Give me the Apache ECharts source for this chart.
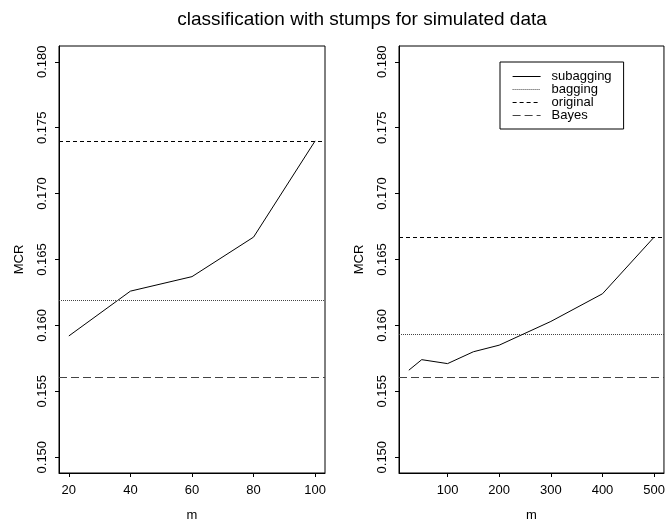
<!DOCTYPE html>
<html>
<head>
<meta charset="utf-8">
<script src="https://cdn.jsdelivr.net/npm/echarts@6/dist/echarts.min.js"></script>
<style>
html, body { margin: 0; padding: 0; background: #fff; }
#chart { width: 668px; height: 527px; }
</style>
</head>
<body>
<div id="chart"></div>
<script>
// left panel: m = 20..100
var m_left = [20, 40, 60, 80, 100]
var subagging_left = [0.1592, 0.1626, 0.1637, 0.1667, 0.1740]
var bagging_left = 0.1619
var original_left = 0.1740
var bayes_left = 0.1561

// right panel: m = 25..500
var m_right = [25, 50, 100, 150, 200, 300, 400, 500]
var subagging_right = [0.1566, 0.1574, 0.1571, 0.1580, 0.1585, 0.1603, 0.1624, 0.1667]
var bagging_right = 0.1593
var original_right = 0.1667
var bayes_right = 0.1561

var x_ticks_left = [20, 40, 60, 80, 100]
var x_ticks_right = [100, 200, 300, 400, 500]
var y_ticks = [0.150, 0.155, 0.160, 0.165, 0.170, 0.175, 0.180]

var legend_names = ['subagging', 'bagging', 'original', 'Bayes']

var font = 'Liberation Sans, Arial, Helvetica, sans-serif'
var styles = {
    subagging: {color: '#000', type: 'solid', width: 1},
    bagging: {color: '#444', type: [1, 1], width: 1},
    original: {color: '#000', type: [4, 3], width: 1},
    Bayes: {color: '#444', type: [8, 4], width: 1.2}
}

function xAxis(idx, ticks, min, max) {
    return {
        type: 'value', gridIndex: idx, min: min, max: max,
        name: 'm', nameLocation: 'middle', nameGap: 36,
        nameTextStyle: {color: '#000', fontSize: 13, fontFamily: font},
        axisLine: {show: true, onZero: false, lineStyle: {color: '#000'}},
        axisTick: {show: true, length: 4, customValues: ticks, lineStyle: {color: '#000'}},
        axisLabel: {customValues: ticks, color: '#000', fontSize: 13, fontFamily: font, margin: 11},
        splitLine: {show: false}
    }
}

function yAxis(idx) {
    return {
        type: 'value', gridIndex: idx, min: 0.1488, max: 0.1812,
        name: 'MCR', nameLocation: 'middle', nameGap: 33, nameRotate: 90,
        nameTextStyle: {color: '#000', fontSize: 13, fontFamily: font},
        axisLine: {show: true, onZero: false, lineStyle: {color: '#000'}},
        axisTick: {show: true, length: 4, customValues: y_ticks, lineStyle: {color: '#000'}},
        axisLabel: {
            customValues: y_ticks, rotate: 90, color: '#000', fontSize: 13, fontFamily: font, margin: 10,
            formatter: function (v) { return v.toFixed(3) }
        },
        splitLine: {show: false}
    }
}

function hline(name, idx, value) {
    return {
        type: 'line', name: name, xAxisIndex: idx, yAxisIndex: idx, data: [],
        symbol: 'none', lineStyle: styles[name], itemStyle: {color: styles[name].color},
        markLine: {
            silent: true, symbol: 'none', animation: false, precision: 5,
            label: {show: false},
            lineStyle: styles[name],
            data: [{yAxis: value}]
        }
    }
}

function subLine(idx, xs, ys) {
    return {
        type: 'line', name: 'subagging', xAxisIndex: idx, yAxisIndex: idx,
        data: xs.map(function (x, i) { return [x, ys[i]] }),
        symbol: 'none', lineStyle: styles.subagging, itemStyle: {color: '#000'}
    }
}

var option = {
    animation: false,
    backgroundColor: '#fff',
    title: {
        text: 'classification with stumps for simulated data',
        left: 357, top: 5, textAlign: 'center',
        textStyle: {fontSize: 19, fontWeight: 'normal', color: '#000', fontFamily: font}
    },
    legend: {
        orient: 'vertical', left: 500, top: 62,
        width: 129, padding: [8, 12, 7, 12],
        borderColor: '#000', borderWidth: 1,
        itemWidth: 28, itemHeight: 10, itemGap: 0,
        textStyle: {color: '#000', fontSize: 13, lineHeight: 13, fontFamily: font, padding: [0, 0, 0, 6]},
        data: legend_names.map(function (n) {
            return {name: n, lineStyle: styles[n], itemStyle: {opacity: 0}}
        })
    },
    grid: [
        {left: 59, right: 343, top: 46, bottom: 53, show: true, borderColor: '#000', borderWidth: 1},
        {left: 399, right: 3, top: 46, bottom: 53, show: true, borderColor: '#000', borderWidth: 1}
    ],
    xAxis: [xAxis(0, x_ticks_left, 16.8, 103.2), xAxis(1, x_ticks_right, 6, 519)],
    yAxis: [yAxis(0), yAxis(1)],
    series: [
        subLine(0, m_left, subagging_left),
        hline('bagging', 0, bagging_left),
        hline('original', 0, original_left),
        hline('Bayes', 0, bayes_left),
        subLine(1, m_right, subagging_right),
        hline('bagging', 1, bagging_right),
        hline('original', 1, original_right),
        hline('Bayes', 1, bayes_right)
    ]
}

var chart = echarts.init(document.getElementById('chart'), null, {renderer: 'canvas'})
chart.setOption(option)
</script>
</body>
</html>
